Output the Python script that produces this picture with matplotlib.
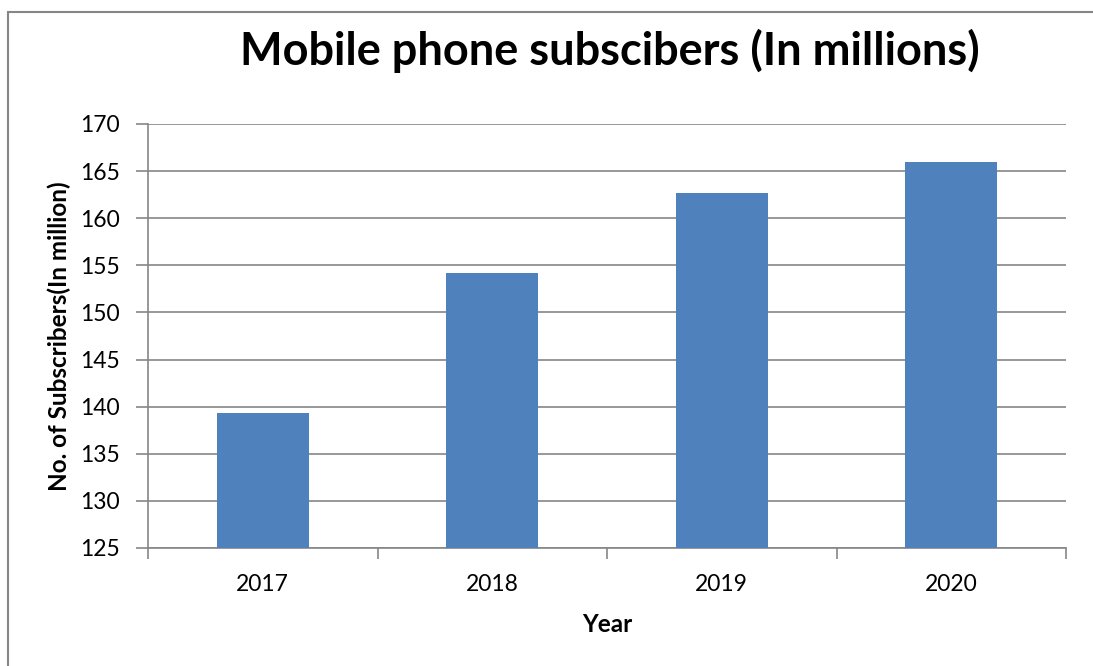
import matplotlib
matplotlib.use("Agg")
import matplotlib.pyplot as plt
from matplotlib.patches import Rectangle

years = ["2017", "2018", "2019", "2020"]
subscribers = [139.3, 154.2, 162.7, 166.0]
yticks = [125, 130, 135, 140, 145, 150, 155, 160, 165, 170]

plt.rcParams['font.family'] = ['Lato', 'DejaVu Sans']

fig = plt.figure(figsize=(10.93, 6.66), dpi=100)
ax = fig.add_axes([148/1093, 1-548/666, (1066-148)/1093, (548-124)/666])

x = list(range(len(years)))
ax.bar(x, subscribers, width=0.40, color="#4F81BD", zorder=3, bottom=0)
ax.set_xlim(-0.5, len(years) - 0.5)
ax.set_ylim(125, 170)
ax.set_yticks(yticks)
ax.set_yticklabels([str(t) for t in yticks], fontsize=16.5)
ax.set_xticks(x)
ax.set_xticklabels(years, fontsize=16.5)
ax.tick_params(axis='x', length=0, pad=18.5)
ax.set_xticks([i - 0.5 for i in range(len(years) + 1)], minor=True)
ax.tick_params(axis='x', which='minor', length=8, color='#868686', width=1.2)
ax.tick_params(axis='y', length=9, color='#868686', width=1.2, pad=11)
ax.grid(axis='y', color='#868686', linewidth=1.2, zorder=0)
for s in ['top', 'right']:
    ax.spines[s].set_visible(False)
for s in ['left', 'bottom']:
    ax.spines[s].set_color('#868686')
    ax.spines[s].set_linewidth(1.2)

ax.set_xlabel("Year", fontsize=17.5, fontweight='bold', labelpad=13)
ax.set_ylabel("No. of Subscribers(In million)", fontsize=17.5, fontweight='bold', labelpad=6.5)
fig.text(610/1093, 1-51/666, "Mobile phone subscibers (In millions)", fontsize=32.5,
         fontweight='bold', ha='center', va='center')

fig.patches.append(Rectangle((8/1093, -0.1), 1.2, 1-12/666 + 0.1, transform=fig.transFigure,
                             fill=False, edgecolor='#868686', linewidth=1.5))

fig.savefig("out.png", dpi=100)
